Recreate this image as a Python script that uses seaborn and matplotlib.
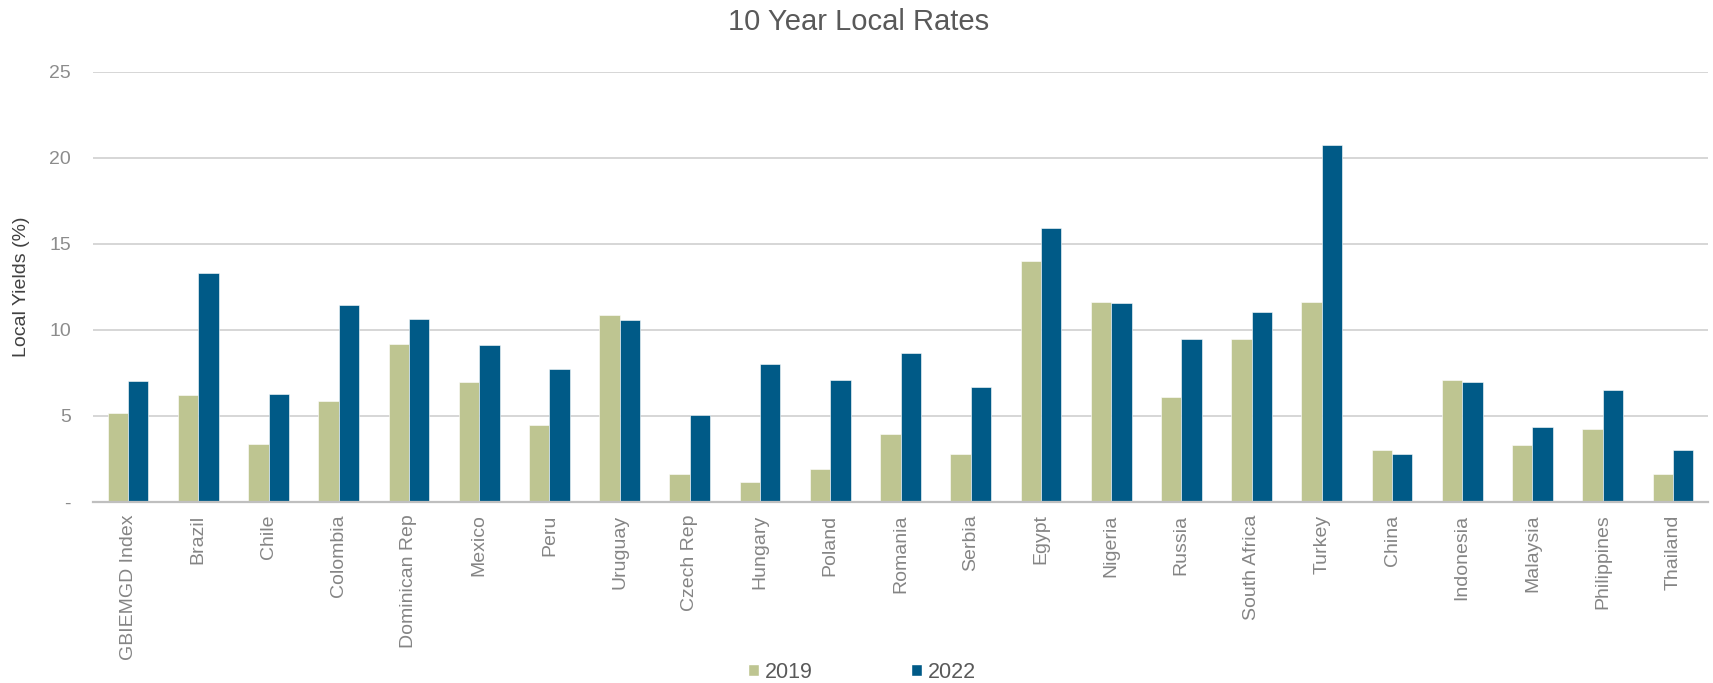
import matplotlib
matplotlib.use("Agg")
import matplotlib.pyplot as plt
from matplotlib.patches import Patch
import pandas as pd
import seaborn as sns

# =========================
# DATA
# =========================
countries = [
    "GBIEMGD Index", "Brazil", "Chile", "Colombia", "Dominican Rep", "Mexico",
    "Peru", "Uruguay", "Czech Rep", "Hungary", "Poland", "Romania", "Serbia",
    "Egypt", "Nigeria", "Russia", "South Africa", "Turkey", "China",
    "Indonesia", "Malaysia", "Philippines", "Thailand",
]
yield_2019 = [5.2, 6.2, 3.35, 5.9, 9.2, 6.95, 4.45, 10.85, 1.6, 1.15, 1.9, 3.95, 2.8,
              14.0, 11.65, 6.1, 9.5, 11.65, 3.0, 7.1, 3.3, 4.25, 1.6]
yield_2022 = [7.05, 13.3, 6.3, 11.45, 10.65, 9.1, 7.75, 10.6, 5.05, 8.05, 7.1, 8.65, 6.7,
              15.95, 11.55, 9.5, 11.05, 20.75, 2.8, 7.0, 4.35, 6.5, 3.0]
years = ["2019", "2022"]
y_ticks = [0, 5, 10, 15, 20, 25]
y_tick_labels = ["-", "5", "10", "15", "20", "25"]

GREEN = "#BEC591"
BLUE = "#005A87"

df = pd.DataFrame({
    "country": countries * 2,
    "year": [years[0]] * len(countries) + [years[1]] * len(countries),
    "value": yield_2019 + yield_2022,
})

# =========================
# PLOT
# =========================
sns.set_style("white")
plt.rcParams["font.family"] = ["Liberation Sans", "DejaVu Sans"]

fig = plt.figure(figsize=(17.13, 6.83), dpi=100)
ax = fig.add_axes([93 / 1713, 181 / 683, 1615 / 1713, 430 / 683])

sns.barplot(
    data=df, x="country", y="value", hue="year",
    order=countries, hue_order=years,
    palette=[GREEN, BLUE], saturation=1, width=0.58, gap=0,
    edgecolor="white", linewidth=0.4,
    legend=False, ax=ax,
)

ax.set_xlim(-0.5, len(countries) - 0.5)
ax.set_ylim(0, 25)
ax.set_yticks(y_ticks)
ax.set_yticklabels(y_tick_labels)
ax.yaxis.grid(True, color="#D0D0D0", linewidth=1.2)
ax.set_axisbelow(True)
for side in ["top", "right", "left"]:
    ax.spines[side].set_visible(False)
ax.spines["bottom"].set_color("#BFBFBF")
ax.spines["bottom"].set_linewidth(1.6)

ax.tick_params(axis="y", length=0, pad=16, labelsize=14, labelcolor="#8C8C8C")
ax.tick_params(axis="x", length=0, pad=9, labelsize=14, labelcolor="#858585", rotation=90)

ax.set_xlabel("")
ax.set_ylabel("Local Yields (%)", fontsize=14, color="#404040")
ax.yaxis.set_label_coords(-0.039, 0.5)

fig.text(859 / 1713, 1 - 22 / 683, "10 Year Local Rates", ha="center", va="center",
         fontsize=21, color="#595959")

handles = [Patch(facecolor=GREEN), Patch(facecolor=BLUE)]
fig.legend(handles, years, loc="center", bbox_to_anchor=(862 / 1713, 1 - 672 / 683),
           ncol=2, frameon=False, fontsize=15.5, labelcolor="#595959",
           handlelength=0.5, handleheight=0.5, handletextpad=0.25, columnspacing=4.6)

plt.savefig("out.png", dpi=100)
plt.close()
